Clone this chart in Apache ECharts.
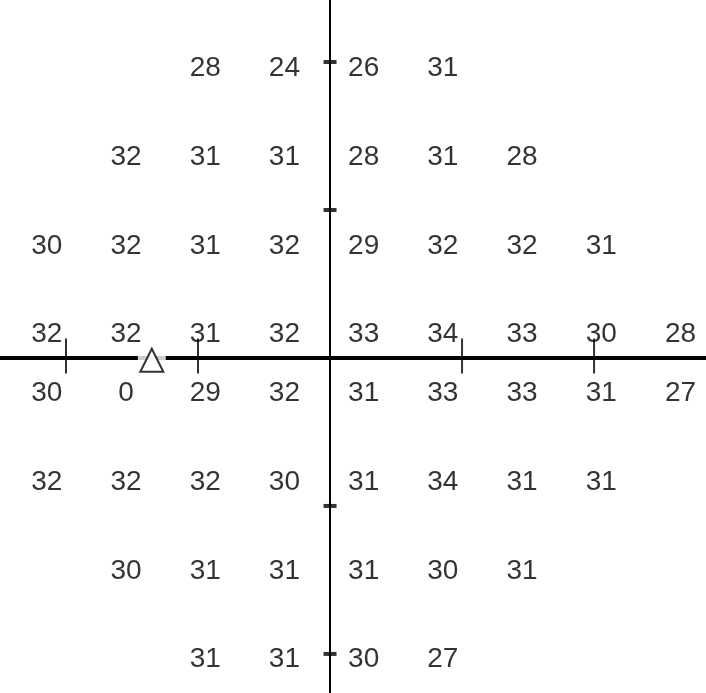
<!DOCTYPE html>
<html>
<head>
<meta charset="utf-8">
<script src="https://cdn.jsdelivr.net/npm/echarts@6/dist/echarts.min.js"></script>
<style>
html,body{margin:0;padding:0;background:#fff;}
#chart{width:706px;height:693px;}
</style>
</head>
<body>
<div id="chart"></div>
<script>
// Column positions (degrees) and row positions (degrees)
const colDeg = [-21, -15, -9, -3, 3, 9, 15, 21, 27];
const rowDeg = [21, 15, 9, 3, -3, -9, -15, -21];

// Threshold values (dB) per row, aligned with colDeg (null = no test point)
const row21  = [null, null, 28, 24, 26, 31, null, null, null];
const row15  = [null, 32, 31, 31, 28, 31, 28, null, null];
const row9   = [30, 32, 31, 32, 29, 32, 32, 31, null];
const row3   = [32, 32, 31, 32, 33, 34, 33, 30, 28];
const rowM3  = [30, 0, 29, 32, 31, 33, 33, 31, 27];
const rowM9  = [32, 32, 32, 30, 31, 34, 31, 31, null];
const rowM15 = [null, 30, 31, 31, 31, 30, 31, null, null];
const rowM21 = [null, null, 31, 31, 30, 27, null, null, null];

const rows = [row21, row15, row9, row3, rowM3, rowM9, rowM15, rowM21];

// Axis tick marks (degrees)
const xTicks = [-20, -10, 10, 20];
const yTicks = [20, 10, -10, -20];

// Blind spot marker (degrees)
const blindSpot = [-13.5, -0.15];

const upper = [], lower = [];
rows.forEach((r, i) => {
  r.forEach((v, j) => {
    if (v === null) return;
    const pt = [colDeg[j], rowDeg[i], v];
    (rowDeg[i] > 0 ? upper : lower).push(pt);
  });
});

const labelBase = {
  show: true,
  position: 'inside',
  formatter: p => String(p.value[2]),
  color: '#000',
  fontSize: 28,
  fontFamily: '"Liberation Sans Narrow", "Liberation Sans", Arial, sans-serif'
};

const chart = echarts.init(document.getElementById('chart'));
chart.setOption({
  animation: false,
  backgroundColor: '#fff',
  grid: {left: 0, right: 0, top: 0, bottom: 0},
  xAxis: {
    type: 'value', min: -25, max: 28.48,
    axisLine: {onZero: true, lineStyle: {color: '#000', width: 4}},
    axisTick: {show: false}, axisLabel: {show: false}, splitLine: {show: false}
  },
  yAxis: {
    type: 'value', min: -22.64, max: 24.19,
    axisLine: {onZero: true, lineStyle: {color: '#000', width: 2}},
    axisTick: {show: false}, axisLabel: {show: false}, splitLine: {show: false}
  },
  series: [
    {
      type: 'scatter', z: 3,
      data: xTicks.map(x => [x, 0]),
      symbol: 'rect', symbolSize: [2, 35], symbolOffset: [0, -2],
      itemStyle: {color: '#000'}, silent: true
    },
    {
      type: 'scatter', z: 3,
      data: yTicks.map(y => [0, y]),
      symbol: 'rect', symbolSize: [13, 4],
      itemStyle: {color: '#000'}, silent: true
    },
    {
      type: 'scatter', z: 4,
      data: upper,
      symbol: 'circle', symbolSize: 1,
      itemStyle: {color: 'rgba(0,0,0,0)'},
      label: Object.assign({}, labelBase, {offset: [-6, 21]}),
      silent: true
    },
    {
      type: 'scatter', z: 4,
      data: lower,
      symbol: 'circle', symbolSize: 1,
      itemStyle: {color: 'rgba(0,0,0,0)'},
      label: Object.assign({}, labelBase, {offset: [-6, -9]}),
      silent: true
    },
    {
      type: 'scatter', z: 5,
      data: [blindSpot],
      symbol: 'rect', symbolSize: [28, 28],
      itemStyle: {color: '#fff'}, silent: true
    },
    {
      type: 'scatter', z: 6,
      data: [blindSpot],
      symbol: 'triangle', symbolSize: [23, 23],
      itemStyle: {color: '#fff', borderColor: '#000', borderWidth: 2},
      silent: true
    }
  ]
});
</script>
</body>
</html>
